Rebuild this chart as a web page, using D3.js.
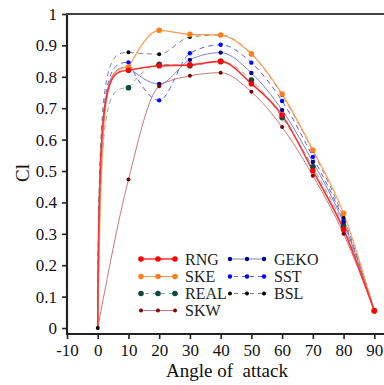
<!DOCTYPE html>
<html><head><meta charset="utf-8">
<script src="https://cdn.jsdelivr.net/npm/d3@7"></script>
<style>body{margin:0;background:#fff;} svg{display:block;}</style>
</head><body>
<script>
const angles = [0, 10, 20, 30, 40, 50, 60, 70, 80, 90];
const RNG  = [0, 0.821, 0.835, 0.838, 0.849, 0.778, 0.678, 0.501, 0.314, 0.055];
const SKE  = [0, 0.830, 0.948, 0.935, 0.933, 0.873, 0.745, 0.567, 0.365, 0.055];
const REAL = [0, 0.765, 0.840, 0.835, 0.849, 0.790, 0.670, 0.513, 0.325, 0.055];
const SKW  = [0, 0.473, 0.770, 0.803, 0.813, 0.752, 0.640, 0.485, 0.300, 0.055];
const GEKO = [0, 0.831, 0.777, 0.854, 0.877, 0.812, 0.694, 0.529, 0.335, 0.055];
const SST  = [0, 0.846, 0.725, 0.875, 0.902, 0.845, 0.723, 0.545, 0.342, 0.055];
const BSL  = [0, 0.878, 0.872, 0.927, 0.933, 0.873, 0.742, 0.564, 0.351, 0.055];
const xTicks = [-10, 0, 10, 20, 30, 40, 50, 60, 70, 80, 90];
const yTicks = [0, 0.1, 0.2, 0.3, 0.4, 0.5, 0.6, 0.7, 0.8, 0.9, 1];

const series = [
  {name:"RNG",  v:RNG,  line:"#ff3030", mk:"#ff0000", dash:null, r:2.8, w:1.6, steep:0.03},
  {name:"SKE",  v:SKE,  line:"#ff9a50", mk:"#ff7f1e", dash:null, r:2.8, w:1.2, steep:0.12},
  {name:"REAL", v:REAL, line:"#8fa8a0", mk:"#0f4a3f", dash:"5,4", r:2.8, w:1.0, steep:0.10},
  {name:"SKW",  v:SKW,  line:"#c47a7a", mk:"#7f0000", dash:null, r:2.0, w:1.0, steep:null},
  {name:"GEKO", v:GEKO, line:"#8080c8", mk:"#00008b", dash:null, r:2.2, w:1.0, steep:0.03},
  {name:"SST",  v:SST,  line:"#5a5aff", mk:"#0000ff", dash:"5,4", r:2.2, w:1.0, steep:0.04},
  {name:"BSL",  v:BSL,  line:"#808080", mk:"#000000", dash:"5,4", r:2.0, w:1.0, steep:0.02}
];

const W = 384, H = 385;
const FONT = "Liberation Serif";
const svg = d3.select("body").append("svg").attr("width", W).attr("height", H);

const x = d3.scaleLinear().domain([-10, 100]).range([67, 67 + 110 * 3.073]);
const y = d3.scaleLinear().domain([0, 1]).range([328, 14]);

// axes
const xAxis = svg.append("g").attr("transform", "translate(0,334)")
  .call(d3.axisBottom(x).tickValues(xTicks).tickSize(5).tickPadding(5).tickFormat(d => String(d)));
const yAxis = svg.append("g").attr("transform", "translate(67,0)")
  .call(d3.axisLeft(y).tickValues(yTicks).tickSize(5).tickPadding(5).tickFormat(d => d === 0 ? "0" : d === 1 ? "1" : d3.format(".1f")(d)));
[xAxis, yAxis].forEach(g => {
  g.attr("font-family", FONT);
  g.select(".domain").attr("stroke", "#222").attr("stroke-width", 2.2);
  g.selectAll(".tick line").attr("stroke", "#222").attr("stroke-width", 1.6);
  g.selectAll(".tick text").attr("font-size", 17).attr("fill", "#111").attr("font-family", FONT);
});
xAxis.select(".domain").attr("d", `M${x(-10)},0H${W + 5}`);
yAxis.select(".domain").attr("d", `M0,${y(1) - 1}V${334 + 1}`);
svg.append("line").attr("x1", 66).attr("x2", W + 5).attr("y1", 14).attr("y2", 14)
  .attr("stroke", "#444").attr("stroke-width", 2.2);

// lines: first segment rises almost vertically (as in the source spline), rest monotone
function seriesPath(s) {
  const p = d3.path();
  const x0 = x(angles[0]), y0 = y(s.v[0]), x1 = x(angles[1]), y1 = y(s.v[1]);
  const h = x1 - x0;
  const rest = d3.line().x((d, i) => x(angles[i + 1])).y(d => y(d)).curve(d3.curveMonotoneX);
  if (s.steep === null) {
    const all = d3.line().x((d, i) => x(angles[i])).y(d => y(d)).curve(d3.curveMonotoneX);
    return all(s.v);
  }
  p.moveTo(x0, y0);
  p.bezierCurveTo(x0 + s.steep * h, y1 + (y0 - y1) * 0.05, x0 + 0.25 * h, y1, x1, y1);
  const r = rest(s.v.slice(1));
  return p.toString() + "L" + r.slice(1);
}
const plot = svg.append("g");
series.slice().reverse().forEach(s => {
  plot.append("path").attr("d", seriesPath(s)).attr("fill", "none")
    .attr("stroke", s.line).attr("stroke-width", s.w)
    .attr("stroke-dasharray", s.dash);
});
series.slice().reverse().forEach(s => {
  plot.selectAll(null).data(s.v.map((v, i) => ({v, i})).filter(d => d.i > 0 || s.name === "BSL"))
    .enter().append("circle")
    .attr("cx", d => x(angles[d.i])).attr("cy", d => y(d.v))
    .attr("r", s.r).attr("fill", s.mk);
});

// legend
const legPos = [[141, 259], [141, 276.5], [141, 293.5], [141, 310.5], [230, 259], [230, 276.5], [230, 293.5]];
series.forEach((s, i) => {
  const [lx, ly] = legPos[i];
  const g = svg.append("g");
  g.append("line").attr("x1", lx).attr("x2", lx + 34).attr("y1", ly).attr("y2", ly)
    .attr("stroke", s.line).attr("stroke-width", s.w).attr("stroke-dasharray", s.dash ? "4,4" : null)
    .attr("stroke-dashoffset", s.dash ? -4 : null);
  [0, 17, 34].forEach(o => g.append("circle").attr("cx", lx + o).attr("cy", ly).attr("r", s.r).attr("fill", s.mk));
  g.append("text").attr("x", lx + 44).attr("y", ly + 5.5).attr("font-size", 16).attr("fill", "#222")
    .attr("font-family", FONT).text(s.name);
});

// axis titles
svg.append("text").attr("x", 227).attr("y", 377).attr("text-anchor", "middle").attr("font-family", FONT)
  .attr("font-size", 19).attr("fill", "#111").attr("xml:space", "preserve").text("Angle of  attack");
svg.append("text").attr("transform", "translate(29,173) rotate(-90)").attr("text-anchor", "middle").attr("font-family", FONT)
  .attr("font-size", 19).attr("fill", "#111").text("Cl");
</script>
</body></html>
